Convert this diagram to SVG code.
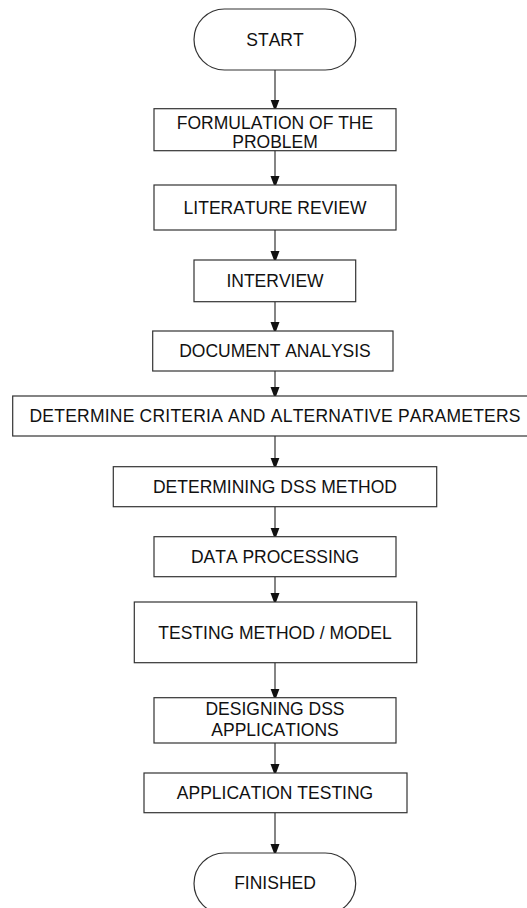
<svg xmlns="http://www.w3.org/2000/svg" width="527" height="908" viewBox="0 0 527 908">
<style>
.b{fill:#fff;stroke:#333;stroke-width:1.2}
.t{font-family:"Liberation Sans",Arial,sans-serif;font-size:17.5px;fill:#111;text-anchor:middle;font-kerning:none}
.c{stroke:#333;stroke-width:1.2;fill:none;marker-end:url(#ah)}
</style>
<defs>
<marker id="ah" markerWidth="12" markerHeight="16" refX="12" refY="6" orient="auto" markerUnits="userSpaceOnUse" viewBox="0 0 16 12">
<path d="M0,0 L16,6 L0,12 Z" fill="#111"/>
</marker>
</defs>
<rect width="527" height="908" fill="#fff"/>
<g id="connectors">
<line class="c" x1="275" y1="70" x2="275" y2="108.5"/>
<line class="c" x1="275" y1="150.7" x2="275" y2="185"/>
<line class="c" x1="275" y1="230" x2="275" y2="260"/>
<line class="c" x1="275" y1="301.7" x2="275" y2="331"/>
<line class="c" x1="275" y1="371" x2="275" y2="396"/>
<line class="c" x1="275" y1="436" x2="275" y2="466.7"/>
<line class="c" x1="275" y1="506.7" x2="275" y2="536.7"/>
<line class="c" x1="275" y1="576.7" x2="275" y2="602"/>
<line class="c" x1="275" y1="662.7" x2="275" y2="697.7"/>
<line class="c" x1="275" y1="743" x2="275" y2="773"/>
<line class="c" x1="275" y1="812.7" x2="275" y2="853"/>
</g>
<g id="start">
<rect class="b" x="194" y="9" width="161.7" height="61" rx="30.5" ry="30.5"/>
<text class="t" x="275" y="45.5">START</text>
</g>
<g id="formulation">
<rect class="b" x="154" y="108.7" width="242" height="42"/>
<text class="t" x="275" y="128.5">FORMULATION OF THE</text>
<text class="t" x="275" y="147.5">PROBLEM</text>
</g>
<g id="literature">
<rect class="b" x="154" y="185" width="242" height="45"/>
<text class="t" x="275" y="213.5">LITERATURE REVIEW</text>
</g>
<g id="interview">
<rect class="b" x="194" y="260" width="161.7" height="41.7"/>
<text class="t" x="275" y="287">INTERVIEW</text>
</g>
<g id="document">
<rect class="b" x="152.7" y="331" width="240.3" height="40"/>
<text class="t" x="275" y="357.3">DOCUMENT ANALYSIS</text>
</g>
<g id="criteria">
<rect class="b" x="12.7" y="396" width="525" height="40"/>
<text class="t" x="275" y="422.3" textLength="491" lengthAdjust="spacing">DETERMINE CRITERIA AND ALTERNATIVE PARAMETERS</text>
</g>
<g id="dss-method">
<rect class="b" x="113.3" y="466.7" width="323.4" height="40"/>
<text class="t" x="275" y="493">DETERMINING DSS METHOD</text>
</g>
<g id="data-processing">
<rect class="b" x="154" y="536.7" width="242" height="40"/>
<text class="t" x="275" y="563">DATA PROCESSING</text>
</g>
<g id="testing-method">
<rect class="b" x="134.3" y="602" width="282.4" height="60.7"/>
<text class="t" x="275" y="638.6">TESTING METHOD / MODEL</text>
</g>
<g id="designing">
<rect class="b" x="154" y="697.7" width="242" height="45.3"/>
<text class="t" x="275" y="715">DESIGNING DSS</text>
<text class="t" x="275" y="736">APPLICATIONS</text>
</g>
<g id="app-testing">
<rect class="b" x="144" y="773" width="263" height="39.7"/>
<text class="t" x="275" y="799">APPLICATION TESTING</text>
</g>
<g id="finished">
<rect class="b" x="194" y="853" width="161.7" height="61" rx="30.5" ry="30.5"/>
<text class="t" x="275" y="889.3">FINISHED</text>
</g>
</svg>
